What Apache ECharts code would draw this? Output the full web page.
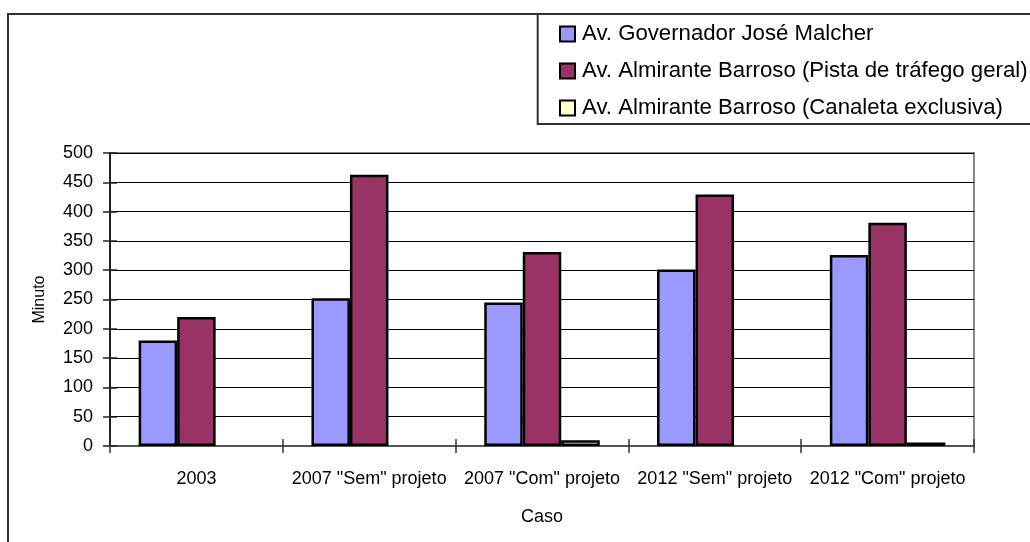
<!DOCTYPE html>
<html>
<head>
<meta charset="utf-8">
<script src="https://cdn.jsdelivr.net/npm/echarts@6/dist/echarts.min.js"></script>
<style>
  html, body { margin: 0; padding: 0; background: #fff; }
  #chart { width: 1030px; height: 542px; }
</style>
</head>
<body>
<div id="chart"></div>
<script>
// Cases on the horizontal axis
const categories = ['2003', '2007 "Sem" projeto', '2007 "Com" projeto', '2012 "Sem" projeto', '2012 "Com" projeto'];

// Series names
const seriesNames = [
  'Av. Governador José Malcher',
  'Av. Almirante Barroso (Pista de tráfego geral)',
  'Av. Almirante Barroso (Canaleta exclusiva)'
];

// Values in minutes
const malcher = [180, 252, 245, 301, 326];
const barrosoGeral = [220, 463, 331, 429, 381];
const barrosoCanaleta = [null, null, 10, null, 6];

// Value axis ticks
const yTicks = [0, 50, 100, 150, 200, 250, 300, 350, 400, 450, 500];

const FONT = "'Liberation Sans', Arial, sans-serif";
const colors = ['#9999FF', '#993366', '#FFFFCC'];

const chart = echarts.init(document.getElementById('chart'));

const barStyle = (c) => ({ color: c, borderColor: '#000', borderWidth: 2.5 });

chart.setOption({
  animation: false,
  backgroundColor: '#fff',
  textStyle: { fontFamily: FONT, color: '#000' },
  grid: {
    left: 110, right: 56, top: 153, bottom: 96,
    show: true, borderColor: '#888', borderWidth: 2, backgroundColor: 'transparent'
  },
  legend: {
    orient: 'vertical',
    left: 554, top: 18,
    itemWidth: 15, itemHeight: 15, itemGap: 15,
    icon: 'rect',
    textStyle: { fontFamily: FONT, fontSize: 22.2, lineHeight: 22, color: '#000', padding: [0, 0, 0, 2] },
    data: seriesNames
  },
  graphic: [
    { type: 'rect', silent: true, shape: { x: 8, y: 14, width: 1100, height: 1000 },
      style: { fill: 'none', stroke: '#333', lineWidth: 2 } },
    { type: 'rect', silent: true, shape: { x: 537.7, y: 14, width: 600, height: 110 },
      style: { fill: 'none', stroke: '#333', lineWidth: 2 } }
  ],
  xAxis: [
    {
      type: 'category', data: categories, position: 'bottom',
      name: 'Caso', nameLocation: 'middle', nameGap: 62,
      nameTextStyle: { fontFamily: FONT, fontSize: 18, color: '#000' },
      axisLine: { lineStyle: { color: '#555', width: 2 } },
      axisTick: { show: true, length: 7, lineStyle: { color: '#333', width: 1.5 } },
      axisLabel: { fontFamily: FONT, fontSize: 18, color: '#000', margin: 24, interval: 0 }
    },
    {
      // inner half of the crossing tick marks
      type: 'category', data: categories, position: 'bottom',
      axisLine: { show: false },
      axisTick: { show: true, inside: true, length: 7, lineStyle: { color: '#333', width: 1.5 } },
      axisLabel: { show: false }
    }
  ],
  yAxis: [
    {
      type: 'value', min: yTicks[0], max: yTicks[yTicks.length - 1], interval: yTicks[1] - yTicks[0],
      name: 'Minuto', nameLocation: 'middle', nameGap: 62, nameRotate: 90,
      nameTextStyle: { fontFamily: FONT, fontSize: 16, color: '#000' },
      axisLine: { show: true, lineStyle: { color: '#222', width: 2 } },
      axisTick: { show: true, length: 7, lineStyle: { color: '#222', width: 1.5 } },
      axisLabel: { fontFamily: FONT, fontSize: 18, color: '#000', margin: 17 },
      splitLine: { show: true, lineStyle: { color: '#000', width: 1 } }
    },
    {
      // inner half of the crossing tick marks
      type: 'value', position: 'left', min: yTicks[0], max: yTicks[yTicks.length - 1], interval: yTicks[1] - yTicks[0],
      axisLine: { show: false },
      axisTick: { show: true, inside: true, length: 7, lineStyle: { color: '#222', width: 1.5 } },
      axisLabel: { show: false },
      splitLine: { show: false }
    }
  ],
  series: [
    { name: seriesNames[0], type: 'bar', data: malcher, barWidth: 38.5, barGap: '0%', itemStyle: barStyle(colors[0]) },
    { name: seriesNames[1], type: 'bar', data: barrosoGeral, barWidth: 38.5, barGap: '0%', itemStyle: barStyle(colors[1]) },
    { name: seriesNames[2], type: 'bar', data: barrosoCanaleta, barWidth: 38.5, barGap: '0%', itemStyle: barStyle(colors[2]) }
  ]
});
</script>
</body>
</html>
